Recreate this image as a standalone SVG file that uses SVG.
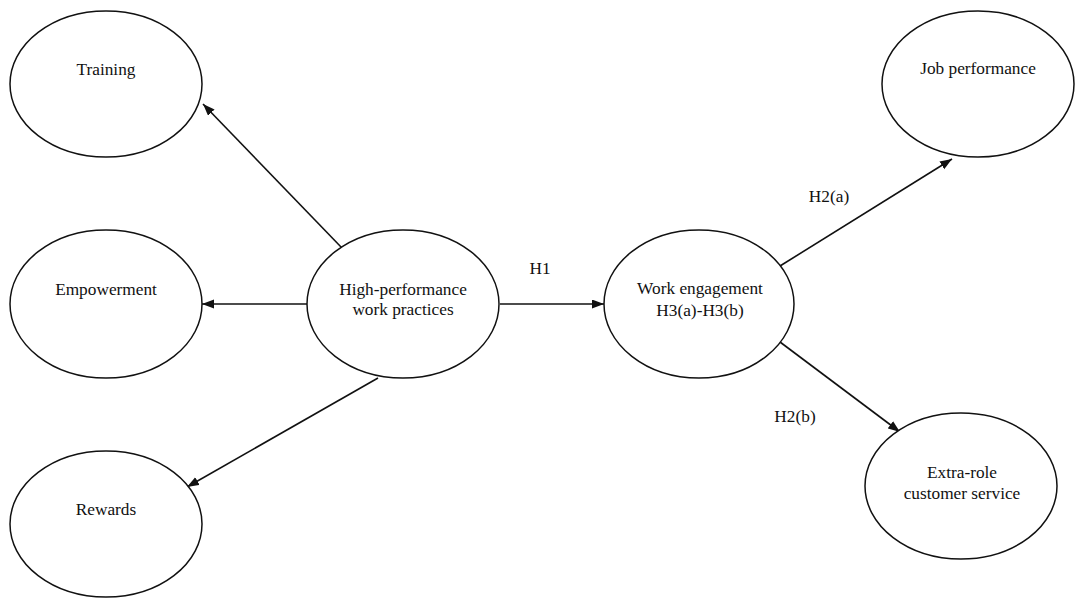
<svg xmlns="http://www.w3.org/2000/svg" width="1075" height="599" viewBox="0 0 1075 599">
  <style>
    .node ellipse { fill: #ffffff; stroke: #111111; stroke-width: 1.5; }
    .node text, .label { font-family: "Liberation Serif", "Times New Roman", serif; font-size: 17.3px; fill: #111111; text-anchor: middle; }
    .edge { stroke: #111111; stroke-width: 1.6; fill: none; marker-end: url(#arrow); }
  </style>
  <defs>
    <marker id="arrow" markerUnits="userSpaceOnUse" markerWidth="13" markerHeight="10" refX="12" refY="4.5" orient="auto">
      <path d="M0,0 L12,4.5 L0,9 Z" fill="#111111"/>
    </marker>
  </defs>

  <rect width="1075" height="599" fill="#ffffff"/>

  <!-- connectors -->
  <g id="connectors">
    <line class="edge" x1="342" y1="248" x2="203" y2="104"/>
    <line class="edge" x1="307" y1="304" x2="202" y2="304"/>
    <line class="edge" x1="378" y1="378" x2="187" y2="487"/>
    <line class="edge" x1="500" y1="304" x2="604" y2="304"/>
    <line class="edge" x1="780" y1="266" x2="952" y2="159"/>
    <line class="edge" x1="780" y1="342" x2="900" y2="432"/>
    <text class="label" x="540" y="274">H1</text>
    <text class="label" x="829" y="202">H2(a)</text>
    <text class="label" x="795" y="422">H2(b)</text>
  </g>

  <!-- nodes -->
  <g id="training" class="node">
    <ellipse cx="106" cy="84" rx="96" ry="73"/>
    <text x="106" y="75">Training</text>
  </g>
  <g id="empowerment" class="node">
    <ellipse cx="106" cy="304" rx="96" ry="74"/>
    <text x="106" y="295">Empowerment</text>
  </g>
  <g id="rewards" class="node">
    <ellipse cx="106" cy="524" rx="96" ry="73"/>
    <text x="106" y="515">Rewards</text>
  </g>
  <g id="hpwp" class="node">
    <ellipse cx="403" cy="304" rx="96" ry="74"/>
    <text x="403" y="295">High-performance</text>
    <text x="403" y="315">work practices</text>
  </g>
  <g id="work-engagement" class="node">
    <ellipse cx="699" cy="304" rx="95" ry="74"/>
    <text x="700" y="294">Work engagement</text>
    <text x="700" y="316">H3(a)-H3(b)</text>
  </g>
  <g id="job-performance" class="node">
    <ellipse cx="978" cy="84" rx="96" ry="73"/>
    <text x="978" y="74">Job performance</text>
  </g>
  <g id="extra-role" class="node">
    <ellipse cx="961" cy="486" rx="96" ry="73"/>
    <text x="962" y="478">Extra-role</text>
    <text x="962" y="499">customer service</text>
  </g>
</svg>
